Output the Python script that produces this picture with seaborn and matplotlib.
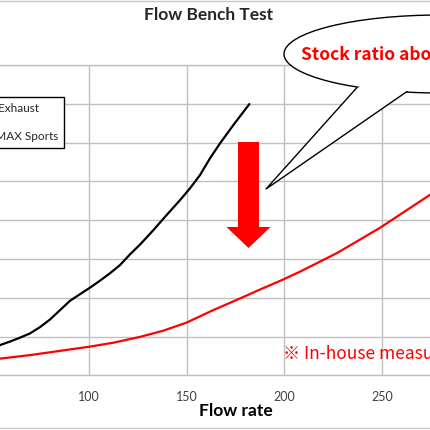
import numpy as np
import pandas as pd
import seaborn as sns
import matplotlib.pyplot as plt
from matplotlib.patches import Ellipse, Polygon, FancyArrow, Rectangle
from matplotlib.lines import Line2D

W, H = 430, 430

SERIES = ['Stock Exhaust', 'LEGAMAX Sports']

flow_stock = [50, 54.4, 59.5, 64.6, 69.7, 74.8, 80.0, 85.1, 90.2, 95.3, 100.5, 105.6,
              110.7, 115.8, 121.0, 126.1, 132.9, 139.7, 146.5, 151.7, 156.8, 161.9,
              167.1, 173.9, 182.1]
resist_stock = [0.71, 0.78, 0.87, 0.97, 1.08, 1.24, 1.44, 1.68, 1.92, 2.09, 2.26, 2.44,
                2.63, 2.84, 3.12, 3.37, 3.74, 4.13, 4.51, 4.82, 5.16, 5.59,
                5.98, 6.45, 6.99]

flow_legamax = [50, 54.4, 69.7, 85.1, 100.5, 112.4, 126.1, 138, 150, 163.6, 177.3,
                188, 199.5, 208, 227, 249, 274.6, 280]
resist_legamax = [0.41, 0.43, 0.52, 0.63, 0.74, 0.84, 0.99, 1.15, 1.36, 1.68, 1.98,
                  2.22, 2.47, 2.67, 3.15, 3.80, 4.65, 4.83]

x_ticks = [100, 150, 200, 250]
y_ticks = [0, 1, 2, 3, 4, 5, 6, 7, 8]

TITLE = 'Flow Bench Test'
X_LABEL = 'Flow rate'
CALLOUT = 'Stock ratio about 1/2'
NOTE = '※ In-house measurement'


def fx(px):
    return px / W


def fy(py):
    return 1 - py / H


df = pd.concat([
    pd.DataFrame({'flow': flow_stock, 'resistance': resist_stock, 'series': SERIES[0]}),
    pd.DataFrame({'flow': flow_legamax, 'resistance': resist_legamax, 'series': SERIES[1]}),
])

sns.set_theme(style='white')
plt.rcParams['font.family'] = ['Lato', 'Noto Sans CJK JP', 'DejaVu Sans']

fig = plt.figure(figsize=(W / 100, H / 100), dpi=100)
ax = fig.add_axes([fx(-60), fy(375.3), 550 / W, 310.4 / H])

sns.lineplot(data=df, x='flow', y='resistance', hue='series', estimator=None,
             palette={SERIES[0]: 'black', SERIES[1]: '#ff0000'},
             linewidth=1.6, ax=ax)

ax.set_xlim(23.6, 305.4)
ax.set_ylim(0, 8)
ax.set_xticks(x_ticks)
ax.set_yticks(y_ticks)
ax.set_yticklabels([])
ax.grid(True, color='#c0c0c0', linewidth=1.0)
for s in ax.spines.values():
    s.set_color('#c0c0c0')
    s.set_linewidth(1.0)
ax.tick_params(axis='both', length=0, labelsize=9, colors='#404040', pad=11)
ax.set_ylabel('')
ax.set_xlabel(X_LABEL, fontsize=12.5, fontweight='bold', color='black')
ax.xaxis.set_label_coords((236 + 60) / 550, (375.3 - 403) / 310.4)

handles, labels = ax.get_legend_handles_labels()
leg = ax.legend(handles, labels, loc='upper right', bbox_to_anchor=(fx(64), fy(97)),
                bbox_transform=fig.transFigure, frameon=True, fancybox=False,
                edgecolor='black', framealpha=1, fontsize=8.5, labelspacing=1.42,
                borderpad=0.5, borderaxespad=0, handlelength=2.5)
leg.get_frame().set_linewidth(1.0)

fig.text(fx(209), fy(15), TITLE, ha='center', va='center', fontsize=12.5, fontweight='bold')

# speech bubble
bubble = Ellipse((fx(440), fy(54)), 2 * 156 / W, 2 * 39 / H, transform=fig.transFigure,
                 facecolor='white', edgecolor='black', linewidth=1.0, zorder=5)
fig.add_artist(bubble)
tail = [(fx(357), fy(88)), (fx(266), fy(189)), (fx(407), fy(92)), (fx(400), fy(70))]
fig.add_artist(Polygon(tail, closed=True, transform=fig.transFigure,
                       facecolor='white', edgecolor='none', zorder=6))
fig.add_artist(Line2D([fx(357), fx(266), fx(407)], [fy(87.5), fy(189), fy(91.5)],
                      transform=fig.transFigure, color='black', linewidth=1.0, zorder=7))
fig.text(fx(301), fy(55), CALLOUT, ha='left', va='center', fontsize=12.5,
         fontweight='bold', color='#ff0000', family=['Noto Sans CJK JP', 'DejaVu Sans'], zorder=8)

# red arrow
fig.add_artist(FancyArrow(fx(248.5), fy(142), 0, -(248 - 142) / H, width=21 / W,
                          head_width=44 / W, head_length=21 / H, length_includes_head=True,
                          transform=fig.transFigure, color='#ff0000', linewidth=0, zorder=4))

fig.text(fx(283), fy(354), NOTE, ha='left', va='center', fontsize=12.5,
         color='#ff0000', family=['Noto Sans CJK JP', 'DejaVu Sans'])

# chart area border
fig.add_artist(Rectangle((fx(-10), fy(428)), fx(450), (428 - 0.5) / H, transform=fig.transFigure,
                         facecolor='none', edgecolor='#c8c8c8', linewidth=1.0, zorder=0))

fig.savefig('out.png', dpi=100)
